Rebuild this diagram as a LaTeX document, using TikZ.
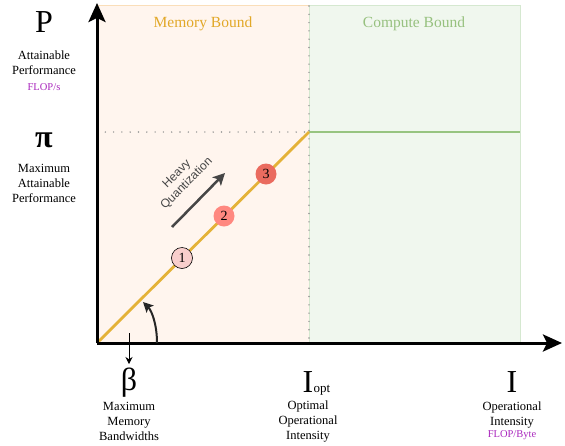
\documentclass[tikz,border=0pt]{standalone}
\usepackage{fontspec}
\setmainfont{Liberation Serif}
\newfontfamily\hqfont{Liberation Sans}
\usetikzlibrary{arrows.meta}
\definecolor{memfill}{RGB}{255,245,238}
\definecolor{memedge}{RGB}{250,222,185}
\definecolor{compfill}{RGB}{240,247,238}
\definecolor{compedge}{RGB}{213,232,208}
\definecolor{memtext}{RGB}{226,168,40}
\definecolor{comptext}{RGB}{151,193,127}
\definecolor{roof}{RGB}{228,178,56}
\definecolor{flat}{RGB}{151,196,128}
\definecolor{unitpurple}{RGB}{170,40,190}
\definecolor{cA}{RGB}{248,206,204}
\definecolor{cB}{RGB}{255,136,128}
\definecolor{cC}{RGB}{234,107,95}
\definecolor{dotgray}{RGB}{150,150,150}
\definecolor{arrgray}{RGB}{70,70,70}
\begin{document}
\begin{tikzpicture}[x=1pt,y=-1pt,
  bigsym/.style={font=\fontsize{32}{32}\selectfont, inner sep=0pt},
  desc/.style={font=\fontsize{12.5}{15}\selectfont, align=center, inner sep=0pt, anchor=north},
  unit/.style={font=\fontsize{10.5}{12}\selectfont, text=unitpurple, inner sep=0pt, anchor=base},
  region/.style={font=\fontsize{15.5}{18}\selectfont, inner sep=0pt, anchor=base},
  circ/.style={circle, minimum size=21pt, inner sep=0pt, font=\fontsize{14}{14}\selectfont},
  axis/.style={line width=3pt, -{Stealth[width=17pt,length=19pt,inset=4pt]}},
  dots/.style={dotgray, line width=1.6pt, line cap=round, dash pattern=on 0pt off 8.3pt}
]
\useasboundingbox (0,0) rectangle (565,445);
\fill[white] (0,0) rectangle (565,445);
% regions
\draw[memedge, fill=memfill, line width=1pt] (97,5) rectangle (309,343);
\draw[compedge, fill=compfill, line width=1pt] (309,5) rectangle (520,343);
\coordinate (O) at (97,343);
\coordinate (R) at (309,132);
\coordinate (E) at (520,132);
\coordinate (Ly) at (97,132);
\coordinate (Vt) at (309,6);
\coordinate (Vb) at (309,343);
\coordinate (Ytip) at (97,3);
\coordinate (Xtip) at (562,343);
% dotted guides
\draw[dots] (Vt) -- (Vb);
\draw[dots] (Ly) -- (R);
% roofline
\draw[flat, line width=2.8pt] (R) -- (E);
\draw[roof, line width=2.8pt] (O) -- (R);
% axes
\draw[axis] (O) -- (Ytip);
\draw[axis] (O) -- (Xtip);
% region titles
\node[region, text=memtext] (mb) at (203,27) {Memory Bound};
\node[region, text=comptext] (cb) at (414,27) {Compute Bound};
% circles
\node[circ, fill=cA, draw=black, line width=0.6pt] (n1) at (182,258) {1};
\node[circ, fill=cB] (n2) at (224,216) {2};
\node[circ, fill=cC] (n3) at (266,174) {3};
% heavy quantization
\coordinate (hqs) at (172,227);
\coordinate (hqe) at (225,173);
\draw[arrgray, line width=2.5pt, -{Stealth[width=12pt,length=12pt,inset=3pt]}] (hqs) -- (hqe);
\node[rotate=45, font=\hqfont\fontsize{12}{14}\selectfont, text=arrgray, align=center, inner sep=0pt] (hq) at (182,179) {Heavy\\Quantization};
% slope arrow
\coordinate (cs) at (157,343);
\coordinate (ce) at (143,302);
\draw[black!85, line width=2pt, -{Stealth[width=10pt,length=10pt,inset=2pt]}] (cs) .. controls (157,325) and (152,311) .. (ce);
% beta arrow
\coordinate (ds) at (129,333);
\coordinate (de) at (129,364);
\draw[black, line width=0.9pt, -{Stealth[width=7pt,length=7pt]}] (ds) -- (de);
% left labels
\node[bigsym, anchor=base] (P) at (44,32) {P};
\node[desc] (pdesc) at (44,51) {Attainable\\Performance};
\node[unit] (punit) at (44,90) {FLOP/s};
\node[bigsym, anchor=base] (pi) at (44,147) {\textbf{π}};
\node[desc] (pidesc) at (44,164) {Maximum\\Attainable\\Performance};
% bottom labels
\node[bigsym, anchor=base] (beta) at (129,390) {β};
\node[desc] (bdesc) at (129,402) {Maximum\\Memory\\Bandwidths};
\node[bigsym, anchor=base] (iopt) at (308,392) {I};
\node[font=\fontsize{13}{13}\selectfont, inner sep=0pt, anchor=base west] (opt) at (iopt.base east) {opt};
\node[desc] (idesc) at (308,401) {Optimal\\Operational\\Intensity};
\node[bigsym, anchor=base] (I) at (512,392) {I};
\node[desc] (odesc) at (512,402) {Operational\\Intensity};
\node[unit] (iunit) at (512,437) {FLOP/Byte};
\end{tikzpicture}
\end{document}
